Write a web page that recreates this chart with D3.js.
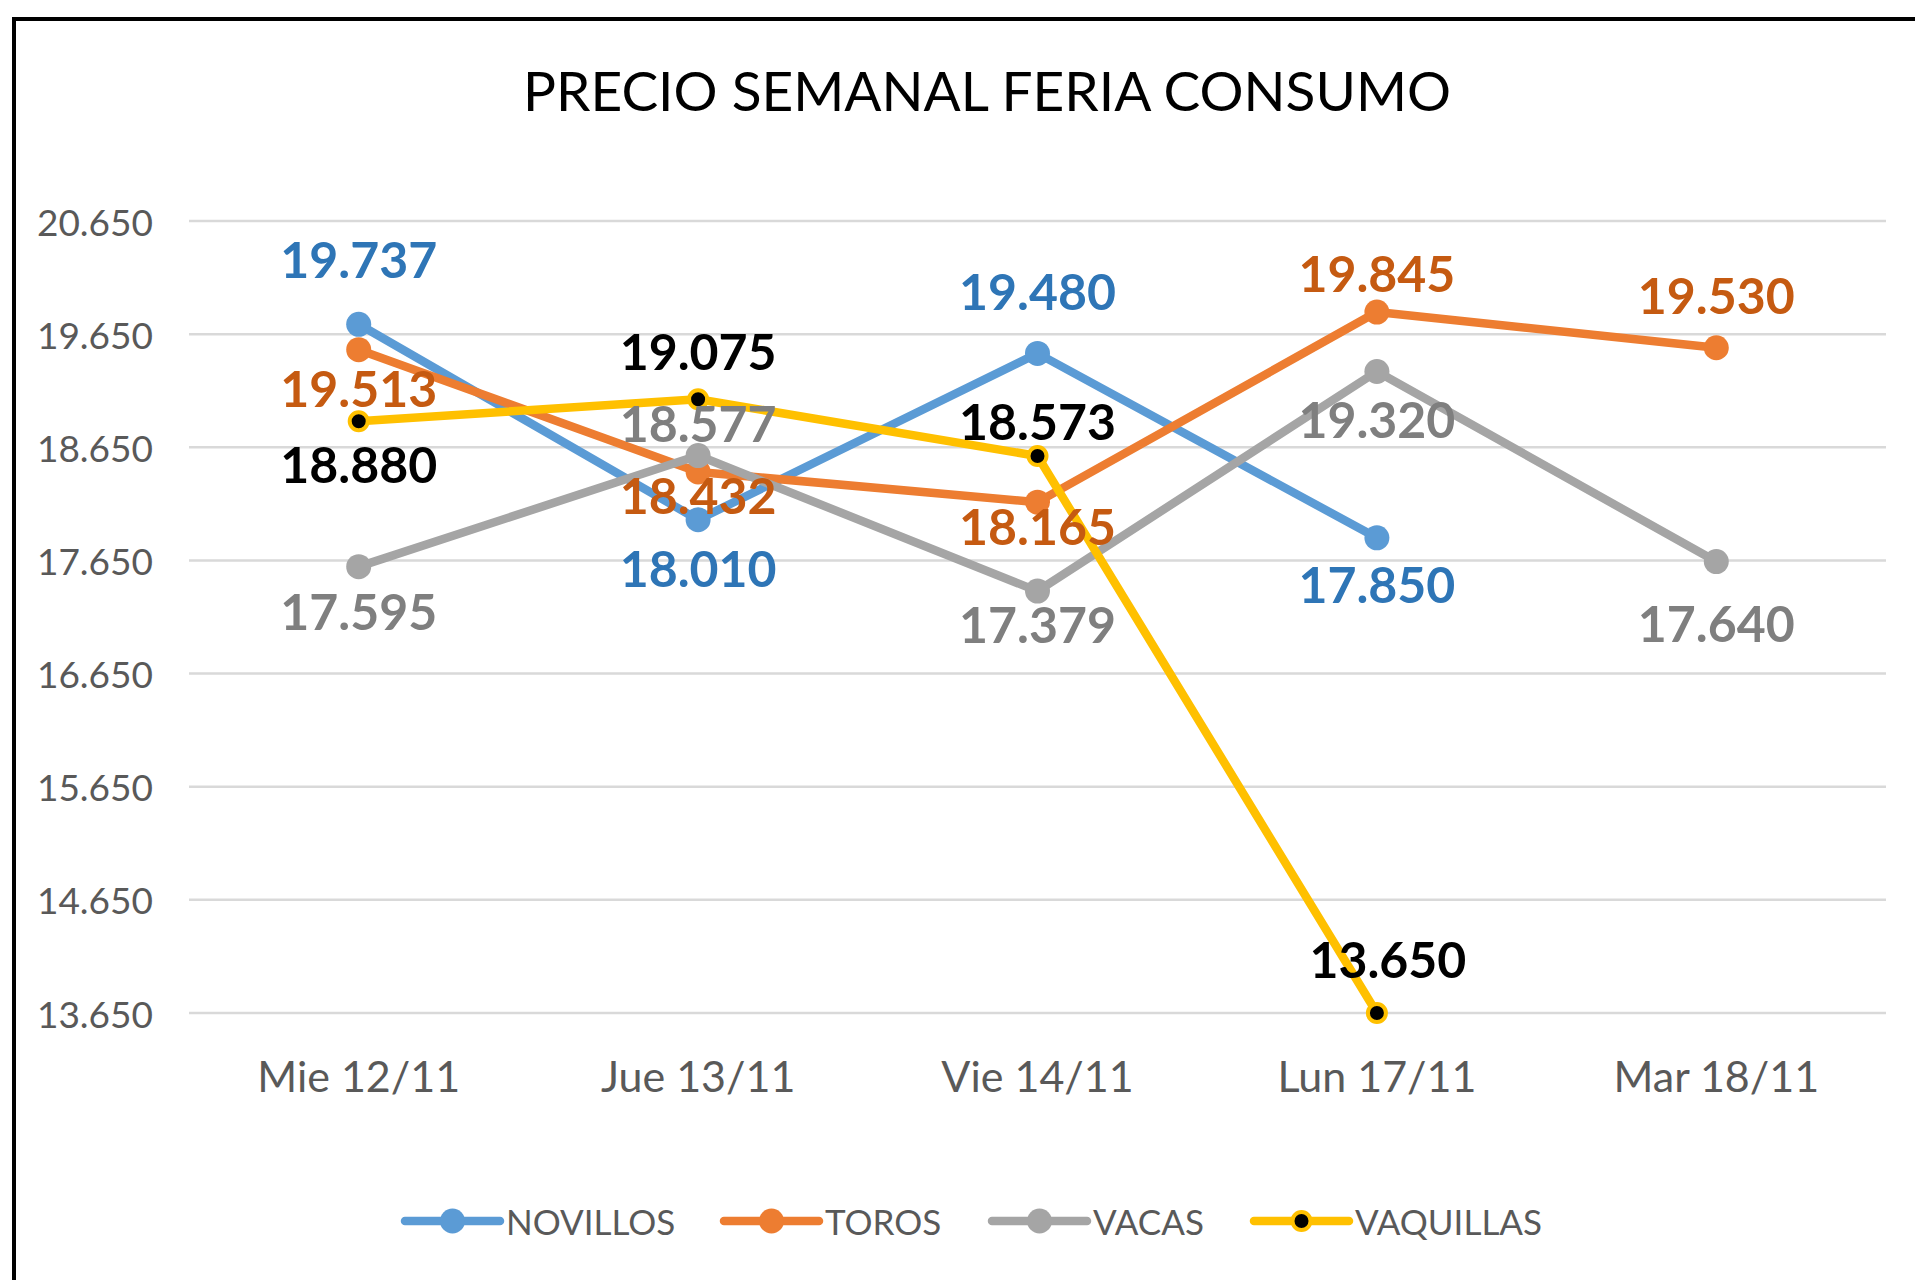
<!DOCTYPE html>
<html lang="es">
<head>
<meta charset="utf-8">
<title>Precio semanal feria consumo</title>
<script src="https://cdn.jsdelivr.net/npm/d3@7"></script>
<style>
  body { margin: 0; background: #fff; }
  text { font-family: Lato, "Open Sans", sans-serif; }
</style>
</head>
<body>
<script>
// data
var dias = ["Mie 12/11", "Jue 13/11", "Vie 14/11", "Lun 17/11", "Mar 18/11"];
var novillos  = [19737, 18010, 19480, 17850, null];
var toros     = [19513, 18432, 18165, 19845, 19530];
var vacas     = [17595, 18577, 17379, 19320, 17640];
var vaquillas = [18880, 19075, 18573, 13650, null];
var yTicks = [13650, 14650, 15650, 16650, 17650, 18650, 19650, 20650];

// label offsets (px, from the point) as Excel placed them
var offNov = [-65, 48, -62, 46, 0];
var offTor = [38, 23, 24, -39, -53];
var offVac = [44, -33, 33, 48, 61];
var offVaq = [43, -48, -35, -54, 0];

var series = [
  {name: "NOVILLOS", values: novillos, line: "#5B9BD5", label: "#2E75B6", off: offNov},
  {name: "TOROS", values: toros, line: "#ED7D31", label: "#C55A11", off: offTor},
  {name: "VACAS", values: vacas, line: "#A5A5A5", label: "#7F7F7F", off: offVac},
  {name: "VAQUILLAS", values: vaquillas, line: "#FFC000", label: "#000000", off: offVaq, dot: "#000"}
];

var W = 1915, H = 1280;
var fmt = d3.formatLocale({decimal: ",", thousands: ".", grouping: [3], currency: ["$", ""]}).format(",");

var svg = d3.select("body").append("svg")
  .attr("width", W).attr("height", H);

// frame
svg.append("rect")
  .attr("x", 14).attr("y", 19)
  .attr("width", W + 20).attr("height", H + 20)
  .attr("fill", "#fff").attr("stroke", "#000").attr("stroke-width", 4);

svg.append("text")
  .attr("x", 987).attr("y", 90)
  .attr("text-anchor", "middle").attr("dominant-baseline", "central")
  .attr("font-size", 55).attr("fill", "#000")
  .text("PRECIO SEMANAL FERIA CONSUMO");

var x = d3.scaleBand().domain(dias).range([189, 1886]);
var y = d3.scaleLinear().domain([13650, 20650]).range([1013, 221]);
var cx = function(i) { return x(dias[i]) + x.bandwidth() / 2; };

// gridlines + y labels
svg.append("g").selectAll("line").data(yTicks).enter().append("line")
  .attr("x1", 189).attr("x2", 1886)
  .attr("y1", function(d) { return y(d); }).attr("y2", function(d) { return y(d); })
  .attr("stroke", "#D9D9D9").attr("stroke-width", 2.5);

svg.append("g").selectAll("text").data(yTicks).enter().append("text")
  .attr("x", 153).attr("y", function(d) { return y(d); })
  .attr("text-anchor", "end").attr("dominant-baseline", "central")
  .attr("font-size", 37).attr("fill", "#595959")
  .text(function(d) { return fmt(d); });

// x labels
var xAxis = d3.axisBottom(x).tickSize(0).tickPadding(0);
var gx = svg.append("g").attr("transform", "translate(0,1061)").call(xAxis);
gx.select(".domain").remove();
gx.selectAll("text")
  .attr("font-size", 43).attr("fill", "#595959")
  .attr("font-family", "Lato, sans-serif");

// lines
var line = d3.line()
  .defined(function(d) { return d != null; })
  .x(function(d, i) { return cx(i); })
  .y(function(d) { return y(d); });

series.forEach(function(s) {
  svg.append("path")
    .datum(s.values)
    .attr("d", line)
    .attr("fill", "none").attr("stroke", s.line)
    .attr("stroke-width", 8.5).attr("stroke-linejoin", "round");
  var pts = s.values.map(function(v, i) { return {v: v, i: i}; })
    .filter(function(p) { return p.v != null; });
  svg.append("g").selectAll("circle").data(pts).enter().append("circle")
    .attr("cx", function(p) { return cx(p.i); })
    .attr("cy", function(p) { return y(p.v); })
    .attr("r", s.dot ? 9 : 12.5)
    .attr("fill", s.dot || s.line)
    .attr("stroke", s.dot ? s.line : "none")
    .attr("stroke-width", 4);
});

// data labels
series.forEach(function(s) {
  var pts = s.values.map(function(v, i) { return {v: v, i: i}; })
    .filter(function(p) { return p.v != null; });
  svg.append("g").selectAll("text").data(pts).enter().append("text")
    .attr("x", function(p) { return cx(p.i) + (s.name == "VAQUILLAS" && p.i == 3 ? 11 : 0); })
    .attr("y", function(p) { return y(p.v) + s.off[p.i]; })
    .attr("text-anchor", "middle").attr("dominant-baseline", "central")
    .attr("font-size", 50).attr("font-weight", "bold")
    .attr("fill", s.label)
    .text(function(p) { return fmt(p.v); });
});

// legend
var legX = [405, 724, 992, 1254];
var leg = svg.append("g").selectAll("g").data(series).enter().append("g")
  .attr("transform", function(d, i) { return "translate(" + legX[i] + ",1221)"; });
leg.append("line")
  .attr("x1", 0).attr("x2", 95)
  .attr("stroke", function(d) { return d.line; })
  .attr("stroke-width", 8.5).attr("stroke-linecap", "round");
leg.append("circle")
  .attr("cx", 47.5).attr("r", function(d) { return d.dot ? 9 : 12.5; })
  .attr("fill", function(d) { return d.dot || d.line; })
  .attr("stroke", function(d) { return d.dot ? d.line : "none"; })
  .attr("stroke-width", 4);
leg.append("text")
  .attr("x", 101).attr("dominant-baseline", "central")
  .attr("font-size", 35).attr("fill", "#595959")
  .text(function(d) { return d.name; });
</script>
</body>
</html>
